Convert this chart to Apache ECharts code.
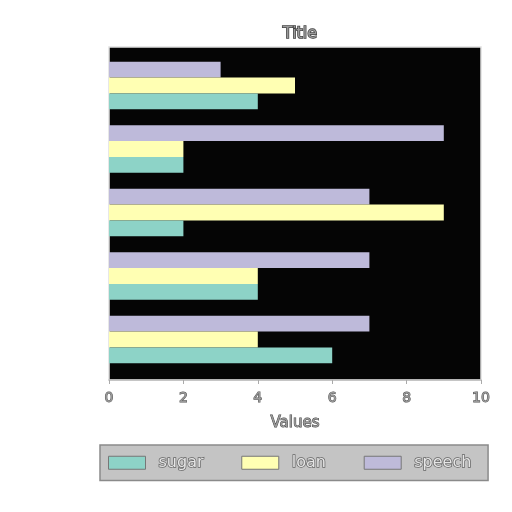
<!DOCTYPE html>
<html><head><meta charset="utf-8">
<script src="https://cdn.jsdelivr.net/npm/echarts@6/dist/echarts.min.js"></script>
<style>html,body{margin:0;padding:0;background:#fff}#c{width:512px;height:512px}</style>
</head><body><div id="c"></div>
<script>
const categories = ['0', '1', '2', '3', '4'];
const sugar = [6, 4, 2, 2, 4];
const loan = [4, 4, 9, 2, 5];
const speech = [7, 7, 7, 9, 3];
const seriesNames = ['sugar', 'loan', 'speech'];
const colors = { sugar: '#8dd3c7', loan: '#ffffb3', speech: '#bebada' };

const chart = echarts.init(document.getElementById('c'));
const mk = (name, data) => ({
  name, type: 'bar', data, xAxisIndex: 0, yAxisIndex: 0,
  barWidth: '25%', barGap: '0%', itemStyle: { color: colors[name] }
});
chart.setOption({
  animation: false,
  backgroundColor: '#ffffff',
  title: { text: 'Title', left: 295, top: 21, textAlign: 'center',
    textStyle: { color: '#9a9a9a', fontSize: 16, fontWeight: 'normal', fontFamily: 'DejaVu Sans',
      textBorderColor: '#444', textBorderWidth: 1.5 } },
  legend: {
    data: seriesNames, left: 100, top: 445, width: 390, icon: 'rect',
    padding: [9, 16, 9, 8], itemGap: 37, itemWidth: 37, itemHeight: 13,
    backgroundColor: '#c4c4c4', borderColor: '#8a8a8a', borderWidth: 1.5,
    textStyle: { color: '#e6e6e6', fontSize: 16, fontFamily: 'DejaVu Sans', padding: [0, 0, 0, 8],
      textBorderColor: '#666', textBorderWidth: 1.5 },
    itemStyle: { borderColor: '#777', borderWidth: 1 }
  },
  grid: [
    { left: 109, right: 31, top: 53.75, bottom: 140.75 },
    { left: 109, right: 31, top: 47, bottom: 132, show: true, backgroundColor: '#050505',
      borderColor: '#e0e0e0', borderWidth: 1.5, z: 0 }
  ],
  xAxis: [
    { gridIndex: 0, type: 'value', min: 0, max: 10, show: false },
    { gridIndex: 1, type: 'value', min: 0, max: 10, interval: 2,
      name: 'Values', nameLocation: 'middle', nameGap: 36,
      nameTextStyle: { color: '#9a9a9a', fontSize: 15, fontFamily: 'DejaVu Sans', textBorderColor: '#444', textBorderWidth: 1 },
      axisLine: { show: true, lineStyle: { color: '#bbbbbb', width: 1.5 } },
      axisTick: { show: true, length: 4, lineStyle: { color: '#aaaaaa' } },
      axisLabel: { color: '#9a9a9a', fontSize: 14, margin: 11, fontFamily: 'DejaVu Sans', textBorderColor: '#555', textBorderWidth: 1 },
      splitLine: { show: false } }
  ],
  yAxis: [
    { gridIndex: 0, type: 'category', data: categories, show: false },
    { gridIndex: 1, type: 'value', show: false }
  ],
  series: [mk('speech', speech), mk('loan', loan), mk('sugar', sugar)]
});
</script></body></html>
